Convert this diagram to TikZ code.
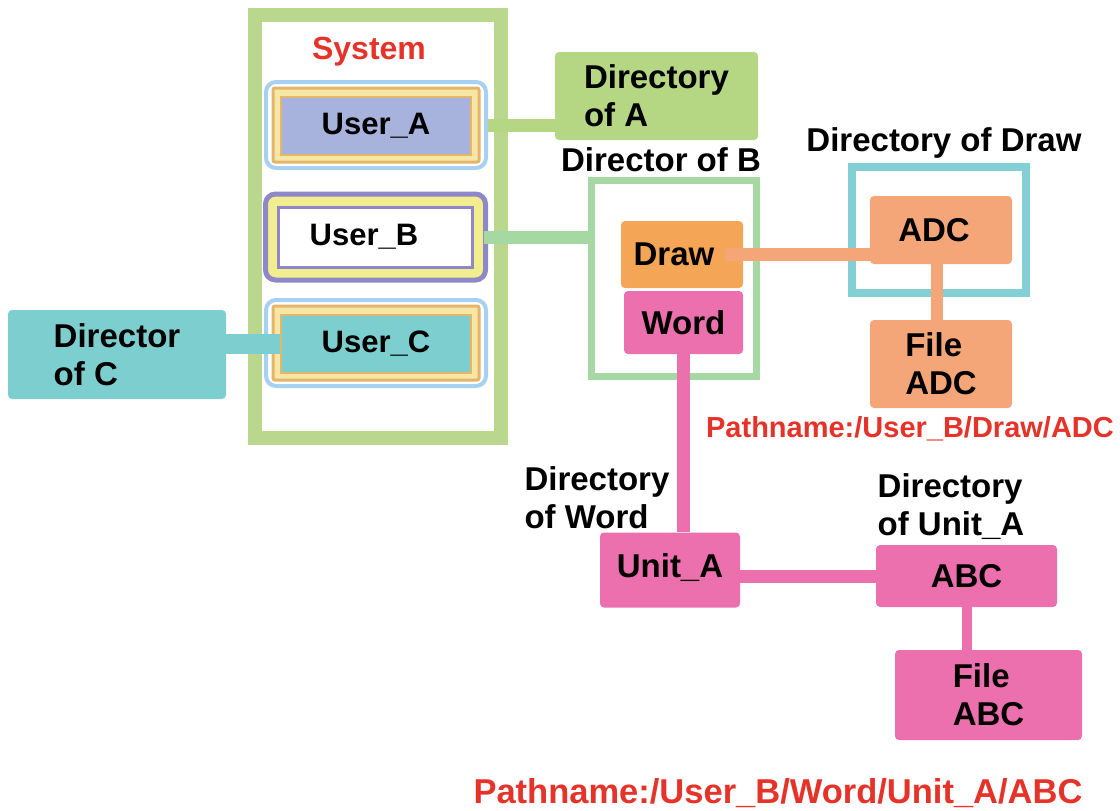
\documentclass[tikz,border=0pt]{standalone}
\usepackage{fontspec}
\setmainfont{Liberation Sans}
\definecolor{sysgreen}{HTML}{B9D88E}
\definecolor{dirAgreen}{HTML}{B5D682}
\definecolor{dirBgreen}{HTML}{A5D8A3}
\definecolor{tealc}{HTML}{7DCFCF}
\definecolor{cyanc}{HTML}{82CFD6}
\definecolor{orangec}{HTML}{F5A556}
\definecolor{salmonc}{HTML}{F4A679}
\definecolor{pinkc}{HTML}{EC6FAE}
\definecolor{redc}{HTML}{E5332A}
\definecolor{lightbluec}{HTML}{A8D0F0}
\definecolor{goldc}{HTML}{E5B56A}
\definecolor{paleyellowc}{HTML}{F7E7A6}
\definecolor{lavenderc}{HTML}{A7B3DC}
\definecolor{purplec}{HTML}{8E88C8}
\definecolor{yellowc}{HTML}{F2EE90}
\tikzset{
  lbl/.style={font=\bfseries\fontsize{33}{38}\selectfont, align=left, inner sep=0pt},
  pathlbl/.style={font=\bfseries\fontsize{#1}{#1}\selectfont, text=redc, inner sep=0pt},
  box/.style={rounded corners=4pt, inner sep=0pt, font=\bfseries\fontsize{33}{38}\selectfont, align=left},
  frame/.style={draw=#1, line width=8pt, inner sep=0pt},
  outerring/.style={draw=#1, line width=4pt, fill=white, rounded corners=10pt, inner sep=0pt, minimum width=220pt, minimum height=86pt},
  midring/.style={draw=#1, line width=3pt, rounded corners=2pt, inner sep=0pt, minimum width=206pt, minimum height=74pt},
  corering/.style={draw=#1, line width=2pt, inner sep=0pt, minimum width=190pt, minimum height=58pt, font=\bfseries\fontsize{31}{38}\selectfont},
  conn/.style={draw=#1, line width=13pt},
}
\begin{document}
\begin{tikzpicture}[x=1pt, y=-1pt]
\useasboundingbox (0,0) rectangle (1120,811);

% system frame
\node[frame=sysgreen, line width=14pt, minimum width=246pt, minimum height=423pt] (sys) at (378,226.5) {};
\node[pathlbl=32] (systitle) at (369,52) {System};

% users
\node[outerring=lightbluec] (usera) at (376,125) {};
\node[midring=goldc, fill=paleyellowc] (usera-ring) at (376,125) {};
\node[corering=goldc, fill=lavenderc] (usera-core) at (376,126) {\raisebox{-3pt}{User\_A}};

\node[outerring=purplec, line width=5pt, fill=yellowc] (userb) at (375.5,237) {};
\node[corering=purplec, line width=3pt, fill=white, minimum width=194pt, minimum height=60pt] (userb-core) at (375,237) {\hspace*{-22pt}User\_B};

\node[outerring=lightbluec] (userc) at (376,343) {};
\node[midring=goldc, fill=paleyellowc] (userc-ring) at (376,343) {};
\node[corering=goldc, fill=tealc] (userc-core) at (376,344) {User\_C};

% directory boxes on the left and top
\node[box, fill=dirAgreen, minimum width=203pt, minimum height=88pt] (dira) at (656.5,96) {Directory\\of A};
\node[box, fill=tealc, minimum width=218pt, minimum height=89pt] (dirc) at (117,354.5) {Director\\of C};

% directory frames
\node[frame=dirBgreen, line width=7pt, minimum width=165pt, minimum height=196pt] (dirb) at (674,278.5) {};
\node[lbl] (dirblbl) at (661,160) {Director of B};
\node[frame=cyanc, minimum width=174pt, minimum height=126pt] (dirdraw) at (939,230) {};
\node[lbl] (dirdrawlbl) at (944,143) {Directory of Draw};

% contents of B
\node[box, fill=orangec, minimum width=122pt, minimum height=67pt] (draw) at (682,254.5) {Draw\hspace*{16pt}};
\node[box, fill=pinkc, minimum width=119pt, minimum height=63pt] (word) at (683.5,322.5) {Word};

% contents of Draw
\node[box, fill=salmonc, minimum width=142pt, minimum height=68pt] (adc) at (941,230) {ADC\hspace*{14pt}};
\node[box, fill=salmonc, minimum width=142pt, minimum height=88pt] (fileadc) at (941,364) {File\\ADC};
\node[pathlbl=29] (pathadc) at (910,429) {Pathname:/User\_B/Draw/ADC};

% word subtree
\node[lbl] (dirwordlbl) at (597,498) {Directory\\of Word};
\node[box, fill=pinkc, minimum width=140pt, minimum height=75pt] (unita) at (670,570) {\raisebox{8pt}{Unit\_A}};
\node[lbl] (dirunitalbl) at (951,507) {Directory\\of Unit\_A};
\node[box, fill=pinkc, minimum width=181pt, minimum height=62pt] (abc) at (966.5,576) {ABC};
\node[box, fill=pinkc, minimum width=187pt, minimum height=90pt] (fileabc) at (988.5,695) {File\\ABC};
\node[pathlbl=34.5] (pathabc) at (778,793) {Pathname:/User\_B/Word/Unit\_A/ABC};

% connector end points
\coordinate (userb-out) at ([xshift=-4pt]userb.east);
\coordinate (draw-out) at ([xshift=-18pt]draw.east);
\coordinate (adc-out) at ([xshift=-4pt]adc.south);

% connectors
\draw[conn=dirAgreen] (usera.east) -- (usera.east -| dira.west);
\draw[conn=dirBgreen] (userb-out) -- (userb-out -| dirb.west);
\draw[conn=tealc, line width=20pt] (dirc.east |- userc-core.west) -- (userc-core.west);
\draw[conn=salmonc] (draw-out) -- (draw-out -| adc.west);
\draw[conn=salmonc, line width=12pt] (adc-out) -- (adc-out |- fileadc.north);
\draw[conn=pinkc, line width=13pt] (word.south) -- (word.south |- unita.north);
\draw[conn=pinkc] (unita.east |- abc.west) -- (abc.west);
\draw[conn=pinkc, line width=10pt] (abc.south) -- (abc.south |- fileabc.north);
\end{tikzpicture}
\end{document}
